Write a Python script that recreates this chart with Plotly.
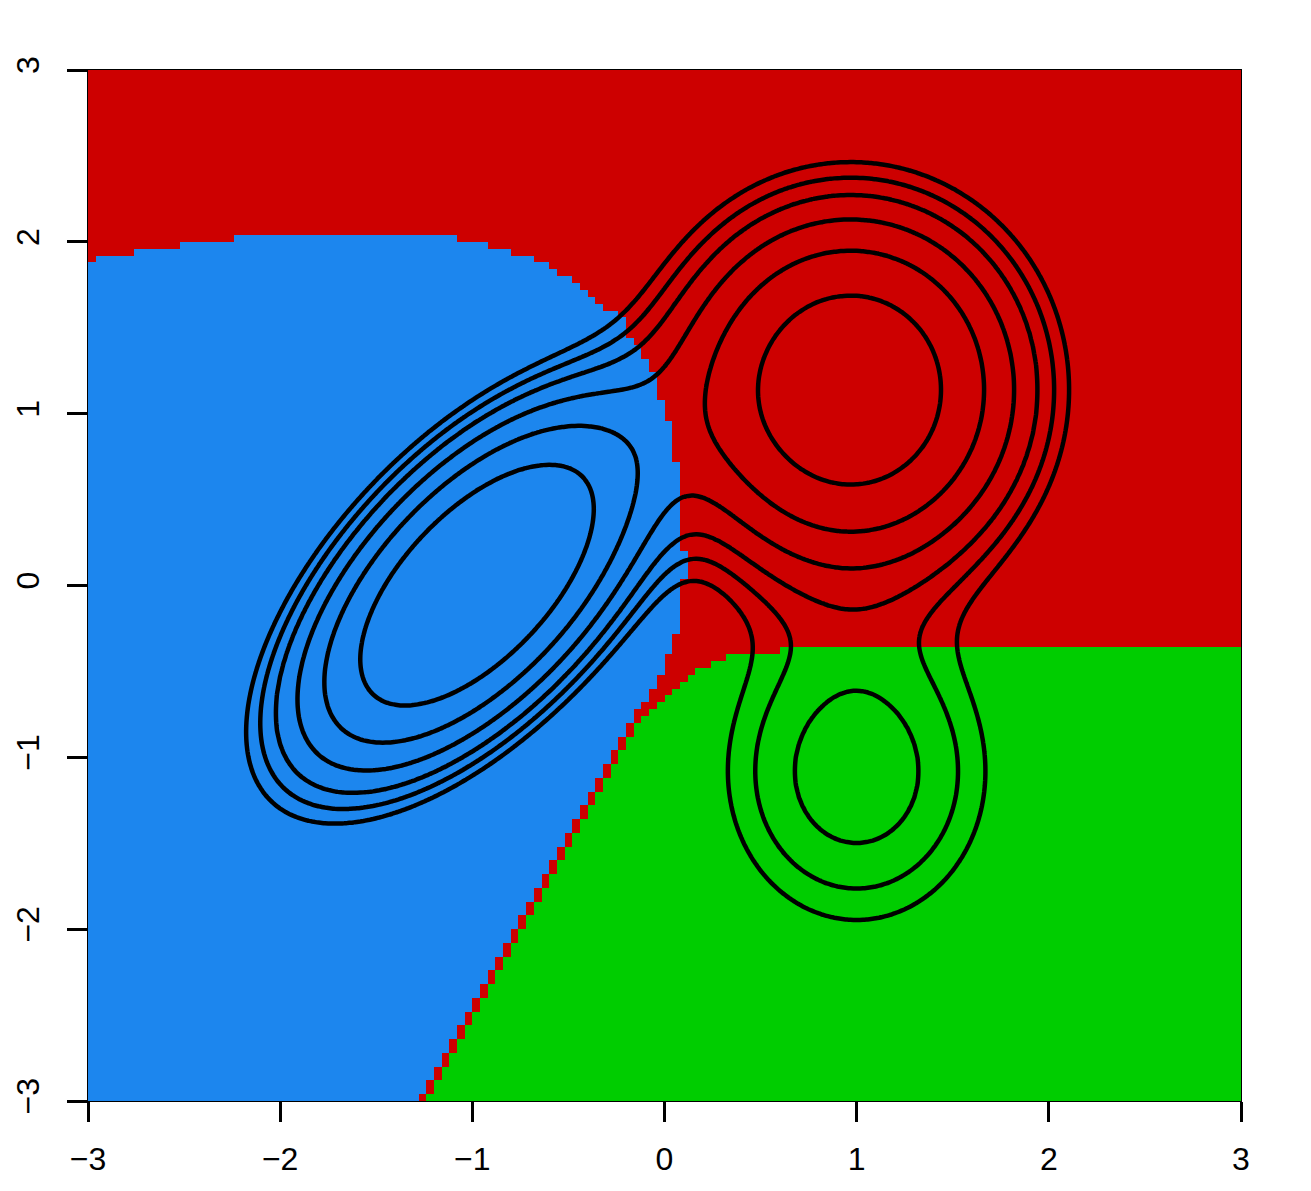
import numpy as np
import plotly.graph_objects as go

# ---------------- axis ticks ----------------
x_ticks = [-3, -2, -1, 0, 1, 2, 3]
y_ticks = [-3, -2, -1, 0, 1, 2, 3]

# ---------------- class colours (0 = blue, 1 = red, 2 = green) ----------------
class_colors = ["#1C86EE", "#CD0000", "#00CD00"]

# ---------------- classification grid ----------------
grid_n = 150
grid_lo, grid_hi = -3.0, 3.0

# blue region: upper edge, by column start x (step function)
blue_top_x = [-3.00, -2.96, -2.76, -2.52, -2.24, -1.08, -0.92, -0.80, -0.68,
              -0.60, -0.56, -0.48, -0.44, -0.40, -0.36, -0.32]
blue_top_y = [1.88, 1.92, 1.96, 2.00, 2.04, 2.00, 1.96, 1.92, 1.88,
              1.84, 1.80, 1.76, 1.72, 1.68, 1.64, 1.60]

# blue region: right edge, by row lower edge y (step function, ascending)
blue_row_lo = [-0.88, -0.80, -0.72, -0.68, -0.60, -0.52, -0.40, -0.28, 0.04,
               0.20, 0.72, 0.96, 1.08, 1.24, 1.32, 1.40, 1.44, 1.56]
blue_row_x = [-0.20, -0.16, -0.12, -0.08, -0.04, 0.00, 0.04, 0.08, 0.12,
              0.08, 0.04, 0.00, -0.04, -0.08, -0.12, -0.16, -0.20, -0.24]
# blue region: lower diagonal right edge (y, x)
blue_diag_y = [-3.00, -0.88]
blue_diag_x = [-1.28, -0.23]

# green region: left edge by row lower edge y (ascending)
green_top = -0.36
green_row_lo = [-0.84, -0.80, -0.76, -0.72, -0.68, -0.64, -0.60, -0.56, -0.52,
                -0.48, -0.44, -0.40]
green_row_x = [-0.16, -0.12, -0.08, -0.04, 0.00, 0.04, 0.08, 0.12, 0.16,
               0.24, 0.32, 0.60]
green_diag_y = [-3.00, -0.84]
green_diag_x = [-1.24, -0.17]

# ---------------- mixture density (blue, red, green components) ----------------
mix_weight = [0.471, 0.451, 0.092]
mix_mean_x = [-0.98, 0.97, 1.00]
mix_mean_y = [0.00, 1.14, -1.09]
mix_var_x = [0.25, 0.25, 0.25]
mix_var_y = [0.335, 0.34, 0.41]
mix_cov_xy = [0.178, 0.0, 0.0]
contour_levels = [0.0187, 0.0263, 0.0373, 0.0582, 0.0942, 0.1587]

# ---------------- build class grid ----------------
step = (grid_hi - grid_lo) / grid_n
centers = grid_lo + step * (np.arange(grid_n) + 0.5)
cls = np.ones((grid_n, grid_n), dtype=int)  # default red
for j, yc in enumerate(centers):
    if yc < blue_row_lo[0]:
        bx = np.interp(yc, blue_diag_y, blue_diag_x)
    elif yc >= 1.60:
        bx = np.inf
    else:
        k = np.searchsorted(blue_row_lo, yc, side="right") - 1
        bx = blue_row_x[k]
    if yc >= green_top:
        gx = np.inf
    elif yc < green_row_lo[0]:
        gx = np.interp(yc, green_diag_y, green_diag_x)
    else:
        k = np.searchsorted(green_row_lo, yc, side="right") - 1
        gx = green_row_x[k]
    for i, xc in enumerate(centers):
        kt = np.searchsorted(blue_top_x, xc, side="right") - 1
        top = blue_top_y[max(kt, 0)]
        if xc > gx:
            cls[j, i] = 2
        elif xc < bx and yc < top:
            cls[j, i] = 0

# ---------------- density surface ----------------
gx_f = np.linspace(-3, 3, 361)
gy_f = np.linspace(-3, 3, 361)
XX, YY = np.meshgrid(gx_f, gy_f)
dens = np.zeros_like(XX)
for w, mx, my, vx, vy, cxy in zip(mix_weight, mix_mean_x, mix_mean_y,
                                  mix_var_x, mix_var_y, mix_cov_xy):
    det = vx * vy - cxy ** 2
    dx = XX - mx
    dy = YY - my
    q = (vy * dx ** 2 - 2 * cxy * dx * dy + vx * dy ** 2) / det
    dens += w * np.exp(-0.5 * q) / (2 * np.pi * np.sqrt(det))

# map the (unevenly spaced) levels onto 1..6 so plotly can draw them evenly
lv = np.log(contour_levels)
xp = np.concatenate([[lv[0] - 20], lv, [lv[-1] + 20]])
fp = np.concatenate([[1 - 20 / (lv[1] - lv[0])], np.arange(1, 7),
                     [6 + 20 / (lv[-1] - lv[-2])]])
zt = np.interp(np.log(np.maximum(dens, 1e-300)), xp, fp)

fig = go.Figure()
fig.add_trace(go.Heatmap(
    x=centers, y=centers, z=cls, zmin=0, zmax=2,
    colorscale=[[0, class_colors[0]], [0.3333, class_colors[0]],
                [0.3334, class_colors[1]], [0.6666, class_colors[1]],
                [0.6667, class_colors[2]], [1, class_colors[2]]],
    showscale=False, hoverinfo="skip", zsmooth=False))
fig.add_trace(go.Contour(
    x=gx_f, y=gy_f, z=zt, autocontour=False,
    contours=dict(start=1, end=6, size=1, coloring="lines", showlabels=False),
    colorscale=[[0, "black"], [1, "black"]], showscale=False,
    line=dict(width=4.5, smoothing=1), hoverinfo="skip"))

axis_common = dict(
    range=[-3, 3], showgrid=False, zeroline=False, automargin=False,
    ticks="outside", ticklen=20, tickwidth=2.5, tickcolor="black",
    showline=True, mirror=True, linecolor="black", linewidth=1,
    tickfont=dict(family="Liberation Sans, Arial, sans-serif", size=32, color="black"),
)
fig.update_xaxes(tickvals=x_ticks, ticktext=[str(v).replace("-", "\u2212") for v in x_ticks],
                 ticklabelstandoff=10, **axis_common)
fig.update_yaxes(tickvals=y_ticks, ticktext=[str(v).replace("-", "\u2212") for v in y_ticks],
                 tickangle=-90, ticklabelstandoff=15, **axis_common)
# page body has an 8px margin; size the figure so the plot box lands at 88..1241 x 70..1101
fig.update_layout(width=1303, height=1183,
                  margin=dict(l=80, r=70, t=62, b=90),
                  paper_bgcolor="white", plot_bgcolor="white", showlegend=False)
fig.write_html("out.html")
